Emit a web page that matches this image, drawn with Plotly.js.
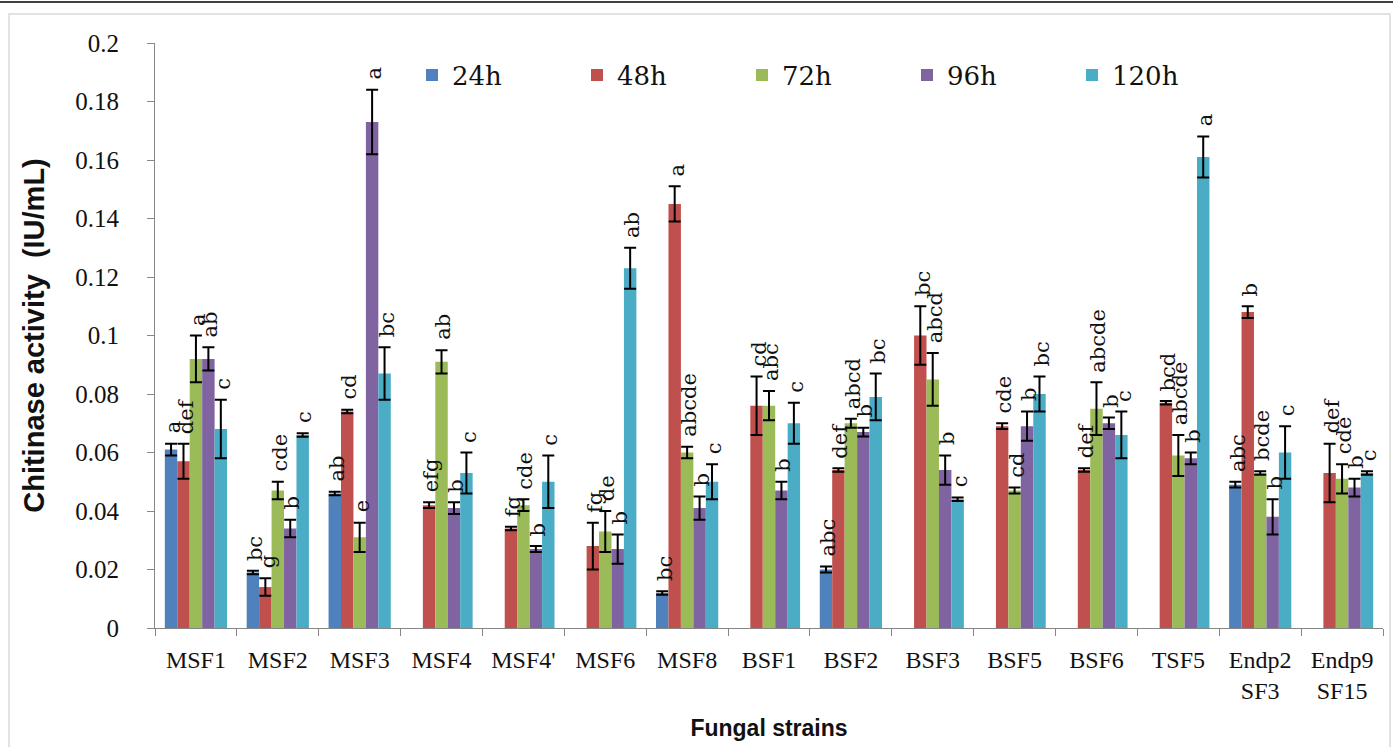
<!DOCTYPE html>
<html>
<head>
<meta charset="utf-8">
<script src="https://cdn.plot.ly/plotly-3.0.1.min.js"></script>
<style>html,body{margin:0;padding:0;background:#fff;}#chart{width:1393px;height:747px;}</style>
</head>
<body>
<div id="chart"></div>
<script>
const categories = ['MSF1','MSF2','MSF3','MSF4',"MSF4'",'MSF6','MSF8','BSF1','BSF2','BSF3','BSF5','BSF6','TSF5','Endp2<br>SF3','Endp9<br>SF15'];
const seriesNames = ['24h','48h','72h','96h','120h'];
const seriesColors = ['#4F81BD','#C0504D','#9BBB59','#8064A2','#4BACC6'];

const v24  = [0.061, 0.019, 0.046, null, null, null, 0.012, null, 0.020, null, null, null, null, 0.049, null];
const e24  = [0.002, 0.0006, 0.0006, null, null, null, 0.0006, null, 0.001, null, null, null, null, 0.001, null];
const l24  = ['a','bc','ab','','','','bc','','abc','','','','','abc',''];

const v48  = [0.057, 0.014, 0.074, 0.042, 0.034, 0.028, 0.145, 0.076, 0.054, 0.100, 0.069, 0.054, 0.077, 0.108, 0.053];
const e48  = [0.006, 0.003, 0.0006, 0.001, 0.0006, 0.008, 0.006, 0.010, 0.0006, 0.010, 0.001, 0.0006, 0.0006, 0.002, 0.010];
const l48  = ['def','g','cd','efg','fg','fg','a','cd','def','bc','cde','def','bcd','b','def'];

const v72  = [0.092, 0.047, 0.031, 0.091, 0.042, 0.033, 0.060, 0.076, 0.070, 0.085, 0.047, 0.075, 0.059, 0.053, 0.051];
const e72  = [0.008, 0.003, 0.005, 0.004, 0.002, 0.007, 0.002, 0.005, 0.0015, 0.009, 0.001, 0.009, 0.007, 0.0006, 0.005];
const l72  = ['a','cde','e','ab','cde','de','abcde','abc','abcd','abcd','cd','abcde','abcde','bcde','cde'];

const v96  = [0.092, 0.034, 0.173, 0.041, 0.027, 0.027, 0.041, 0.047, 0.067, 0.054, 0.069, 0.070, 0.058, 0.038, 0.048];
const e96  = [0.004, 0.003, 0.011, 0.002, 0.001, 0.005, 0.004, 0.003, 0.0015, 0.005, 0.005, 0.002, 0.002, 0.006, 0.003];
const l96  = ['ab','b','a','b','b','b','b','b','b','b','b','b','b','b','b'];

const v120 = [0.068, 0.066, 0.087, 0.053, 0.050, 0.123, 0.050, 0.070, 0.079, 0.044, 0.080, 0.066, 0.161, 0.060, 0.053];
const e120 = [0.010, 0.0006, 0.009, 0.007, 0.009, 0.007, 0.006, 0.007, 0.008, 0.0006, 0.006, 0.008, 0.007, 0.009, 0.0006];
const l120 = ['c','c','bc','c','c','ab','c','c','bc','c','bc','c','a','c','c'];

const values = [v24, v48, v72, v96, v120];
const errors = [e24, e48, e72, e96, e120];
const letters = [l24, l48, l72, l96, l120];

const BARGAP = 0.24;
const serif = 'DejaVu Serif, Liberation Serif, serif';
const tserif = 'Liberation Serif, DejaVu Serif, serif';
const sans = 'Liberation Sans, Arial, sans-serif';

const traces = values.map((vals, j) => ({
  type: 'bar',
  name: seriesNames[j],
  x: categories,
  y: vals,
  marker: {color: seriesColors[j]},
  error_y: {type: 'data', array: errors[j], visible: true, color: '#000000', thickness: 2, width: 6}
}));

const annotations = [];
const barW = (1 - BARGAP) / values.length;
letters.forEach((labs, j) => {
  labs.forEach((txt, i) => {
    if (!txt || values[j][i] == null) return;
    annotations.push({
      x: i + (j - (values.length - 1) / 2) * barW,
      y: values[j][i] + errors[j][i],
      xref: 'x', yref: 'y',
      text: txt,
      showarrow: false,
      textangle: -90,
      xanchor: 'center', yanchor: 'bottom',
      yshift: 8, xshift: 2,
      font: {family: serif, size: 21, color: '#111111'}
    });
  });
});

const L = 155, R = 10, T = 43, B = 119, W = 1393, H = 747;
const pw = W - L - R, ph = H - T - B;
const px = x => (x - L) / pw;
const py = y => (H - B - y) / ph;

const layout = {
  width: W, height: H,
  margin: {l: L, r: R, t: T, b: B},
  paper_bgcolor: '#ffffff', plot_bgcolor: '#ffffff',
  barmode: 'group', bargap: BARGAP, bargroupgap: 0,
  showlegend: true,
  legend: {
    orientation: 'h', x: px(412), xanchor: 'left', y: py(75), yanchor: 'middle',
    font: {family: serif, size: 26, color: '#111111'},
    entrywidth: 120, entrywidthmode: 'pixels',
    bgcolor: 'rgba(0,0,0,0)', traceorder: 'normal'
  },
  xaxis: {
    type: 'category',
    showline: true, linecolor: '#868686', linewidth: 1,
    ticks: 'outside', tickson: 'boundaries', ticklen: 7, tickcolor: '#868686',
    tickangle: 0,
    ticklabelstandoff: 10,
    tickfont: {family: tserif, size: 24, color: '#111111'},
    showgrid: false, zeroline: false,
    title: {text: 'Fungal strains', standoff: 16, font: {family: sans, size: 23, color: '#111111', weight: 'bold'}}
  },
  yaxis: {
    range: [0, 0.2], dtick: 0.02, tick0: 0,
    showline: true, linecolor: '#868686', linewidth: 1,
    ticks: 'outside', ticklen: 7, tickcolor: '#868686',
    ticklabelstandoff: 23,
    tickfont: {family: tserif, size: 25, color: '#111111'},
    showgrid: false, zeroline: false,
    tickformat: '~g',
    title: {text: 'Chitinase activity  (IU/mL)', standoff: 22, font: {family: sans, size: 29, color: '#111111', weight: 'bold'}}
  },
  annotations: annotations,
  shapes: [
    {type: 'line', xref: 'paper', yref: 'paper', x0: px(0), x1: px(W), y0: py(2), y1: py(2), line: {color: '#000000', width: 1.5}},
    {type: 'rect', xref: 'paper', yref: 'paper', x0: px(9), x1: px(1390), y0: py(14), y1: py(760), line: {color: '#d9d9d9', width: 1.5}, fillcolor: 'rgba(0,0,0,0)'}
  ]
};

Plotly.newPlot('chart', traces, layout, {displayModeBar: false, staticPlot: true});
</script>
</body>
</html>
